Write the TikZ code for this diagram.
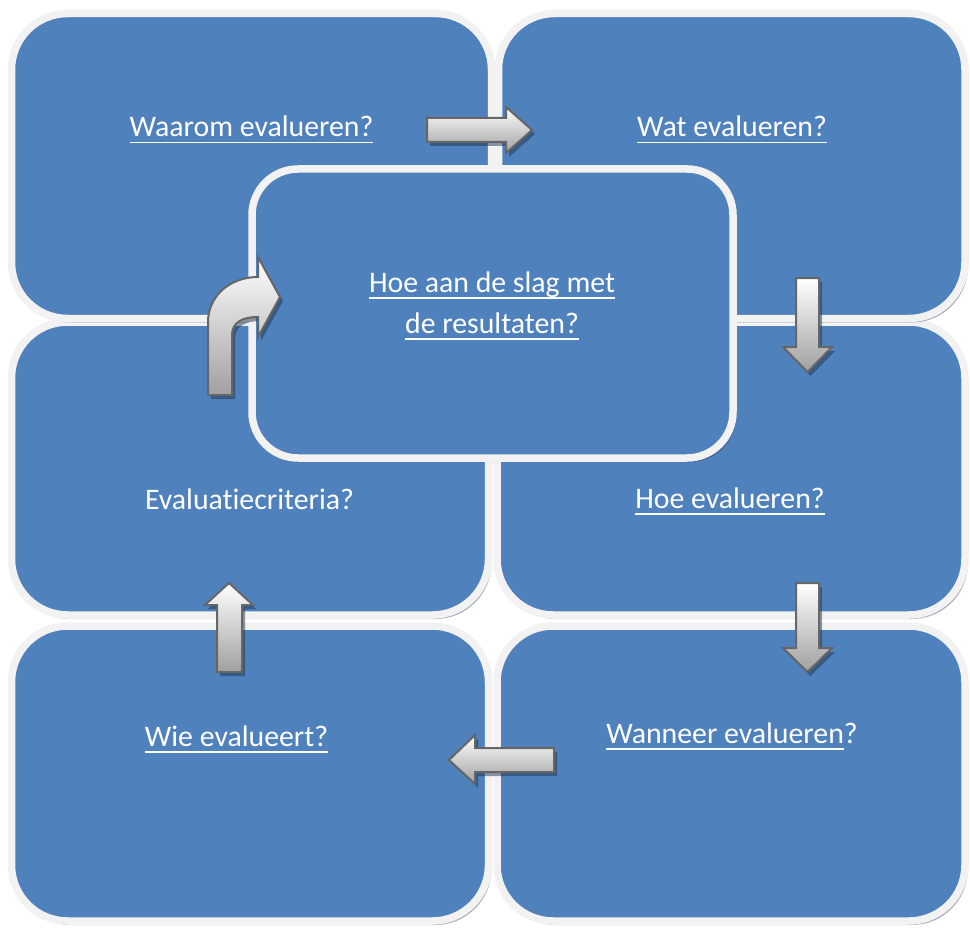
\documentclass[tikz,border=0pt]{standalone}
\usepackage{fontspec}
\setmainfont{Carlito}[Ligatures=NoCommon]
\definecolor{boxblue}{RGB}{79,129,189}
\definecolor{boxrim}{RGB}{242,242,242}
\definecolor{shadowcol}{RGB}{30,50,80}
\definecolor{arrowrim}{RGB}{102,102,102}
\definecolor{arrowgray}{RGB}{160,160,160}
\tikzset{
evalbox/.style={fill=boxblue,draw=boxrim,line width=7.5pt,rounded corners=#1},
evalbox/.default=56pt,
boxshadow/.style={fill=shadowcol,opacity=0.4,rounded corners=#1},
boxshadow/.default=56pt,
blockarrow/.style={draw=arrowrim,line width=2pt,top color=white,bottom color=arrowgray,line join=miter},
arrowshadow/.style={fill=shadowcol,opacity=0.5},
question/.style={inner sep=0pt,anchor=base,text=white,font=\fontsize{29.8}{36}\selectfont},
}
\newsavebox\ulbox
\newcommand\ulined[1]{\sbox\ulbox{#1}\rlap{\usebox\ulbox}\rule[-6.5pt]{\wd\ulbox}{1.8pt}}
\newcommand\blockarrow[1]{%
  \fill[arrowshadow,shift={(3,4)}] #1 -- cycle;
  \draw[blockarrow] #1 -- cycle;}

\begin{document}
\begin{tikzpicture}[x=1pt,y=-1pt]
        \useasboundingbox (0,0) rectangle (970,931);

        % Boxes (middle row first, top and bottom rows lie over it)
        \foreach \xa/\ya/\xb/\yb in {497/322/965/615, 11.5/322/488.5/615,
                498.5/13.5/965/318.5, 11.5/13.5/491.5/318.5,
                497/626/965/921, 11.5/626/488.5/921}
        {
            \fill[boxshadow,shift={(3,4)}] (\xa,\ya) rectangle (\xb,\yb);
            \draw[evalbox] (\xa,\ya) rectangle (\xb,\yb);
        }
        % Centre box
        \fill[boxshadow=46pt,shift={(3,4)}] (252,169) rectangle (733,458);
        \draw[evalbox=46pt] (252,169) rectangle (733,458);

        % Questions
        \node[question] (waarom) at (251.5,137) {\ulined{Waarom evalueren?}};
        \node[question] (wat) at (732,137) {\ulined{Wat evalueren?}};
        \node[question] (slag) at (492,292) {\ulined{Hoe aan de slag met}};
        \node[question] (resultaten) at (492,333) {\ulined{de resultaten?}};
        \node[question] (criteria) at (249.5,509) {Evaluatiecriteria?};
        \node[question] (hoe) at (730,508) {\ulined{Hoe evalueren?}};
        \node[question] (wie) at (236.5,746) {\ulined{Wie evalueert?}};
        \node[question] (wanneer) at (732,743) {\ulined{Wanneer evalueren}?};

        % Arrows between the boxes
        \blockarrow{(427,118) -- (506,118) -- (506,107) -- (532,130) -- (506,153) -- (506,142) -- (427,142)}
        \blockarrow{(796,278) -- (819,278) -- (819,347) -- (832,347) -- (807.5,372) -- (783,347) -- (796,347)}
        \blockarrow{(796,583) -- (819,583) -- (819,648) -- (832,648) -- (807.5,672) -- (783,648) -- (796,648)}
        \blockarrow{(554,748) -- (475,748) -- (475,735) -- (449,760) -- (475,784) -- (475,772) -- (554,772)}
        \blockarrow{(217,672) -- (217,605) -- (205,605) -- (229,583) -- (253,605) -- (242,605) -- (242,672)}
        % Bent arrow into the centre box
        \blockarrow{(208,395) -- (208,322) .. controls (208,296) and (230,277) .. (258,277)
            -- (258,257) -- (280,297) -- (258,337) -- (258,317)
            .. controls (243,317) and (232,322) .. (232,335) -- (232,395)}

\end{tikzpicture}
\end{document}
